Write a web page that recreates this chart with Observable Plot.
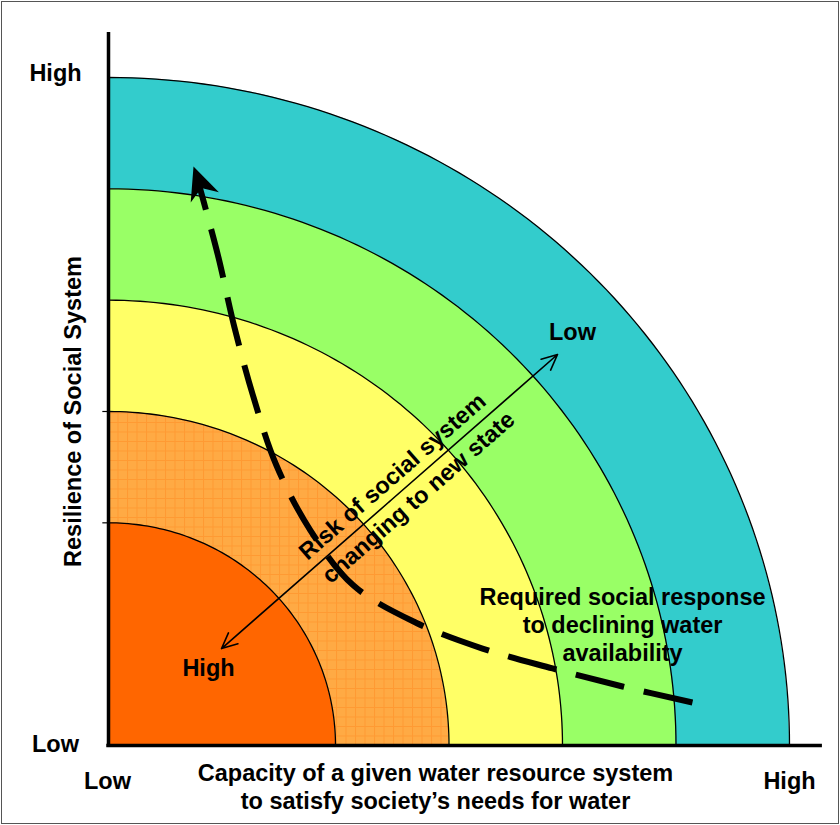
<!DOCTYPE html>
<html><head><meta charset="utf-8">
<script src="https://cdn.jsdelivr.net/npm/d3@7"></script>
<script src="https://cdn.jsdelivr.net/npm/@observablehq/plot@0.6"></script>
<style>
body{margin:0;background:#fff;}
#wrap{position:relative;width:840px;height:825px;overflow:hidden;}
#wrap::after{content:"";position:absolute;left:1px;top:1px;right:1px;bottom:1px;border:1.5px solid #555;pointer-events:none;}
</style></head><body><div id="wrap"></div>
<script>
// Ring outer radii (in axis units) and their fills, outermost first
const ringRadius = [6, 5, 4, 3, 2];
const ringFill = ["#33CCCC", "#99FF66", "#FFFF66", "url(#hatch)", "#FF6600"];

// Dashed "required social response" path (from lower right toward the arrow tip)
const responseX = [5.145, 4.529, 3.912, 3.295, 2.705, 2.159, 1.780, 1.480, 1.278, 1.110, 0.969, 0.855, 0.805];
const responseY = [0.386, 0.530, 0.692, 0.871, 1.105, 1.437, 1.931, 2.515, 3.126, 3.755, 4.383, 4.823, 5.010];
const responseTip = {x: 0.749, y: 5.201};

// Risk double arrow
const riskLow = {x: 3.956, y: 3.512};
const riskHigh = {x: 0.996, y: 0.871};

// Texts
const axisLevelLabels = ["Low", "High"];
const xTitle = ["Capacity of a given water resource system", "to satisfy society\u2019s needs for water"];
const yTitle = "Resilience of Social System";
const riskText = ["Risk of social system", "changing to new state"];
const responseText = ["Required social response", "to declining water", "availability"];

const font = '"Liberation Sans", Arial, Helvetica, sans-serif';
const angles = d3.range(0, 91, 1).map(a => a * Math.PI / 180);
const arc = r => angles.map(a => ({x: r * Math.cos(a), y: r * Math.sin(a)}));

const mid = {x: (riskLow.x + riskHigh.x) / 2, y: (riskLow.y + riskHigh.y) / 2};
const response = responseX.map((x, i) => ({x, y: responseY[i]}));

const stealth = {
  draw(ctx) {
    ctx.moveTo(0, 0);
    ctx.lineTo(15, 33);
    ctx.lineTo(0, 23);
    ctx.lineTo(-15, 33);
    ctx.closePath();
  }
};

const txt = {fontFamily: font, fontWeight: "bold", fontSize: 23.5, fill: "black"};

const marks = [];
ringRadius.forEach((r, i) => {
  marks.push(Plot.areaY(arc(r), {x: "x", y1: 0, y2: "y", fill: ringFill[i], curve: "linear"}));
});
ringRadius.forEach((r) => {
  marks.push(Plot.line(arc(r), {x: "x", y: "y", stroke: "black", strokeWidth: 1.3}));
});
marks.push(
  Plot.ruleY([2, 3], {x1: -0.05, x2: 0, stroke: "black", strokeWidth: 1.2}),
  Plot.ruleX([0], {y1: -0.015, y2: 6.404, stroke: "black", strokeWidth: 3.5}),
  Plot.ruleY([0], {x1: -0.015, x2: 6.29, stroke: "black", strokeWidth: 3.5}),
  // dashed response curve
  Plot.line(response, {x: "x", y: "y", curve: "catmull-rom", stroke: "black", strokeWidth: 6, strokeDasharray: "50,20", strokeLinecap: "butt"}),
  Plot.dot([responseTip], {x: "x", y: "y", symbol: stealth, r: 10, fill: "black", stroke: "none", rotate: -20}),
  // risk double arrow
  Plot.arrow([riskLow, riskHigh], {x1: () => mid.x, y1: () => mid.y, x2: "x", y2: "y", stroke: "black", strokeWidth: 1.6, headLength: 16, headAngle: 50}),
  Plot.text([riskText[0]], {x: 2.502, y: 2.415, text: d => d, rotate: -41.2, ...txt}),
  Plot.text([riskText[1]], {x: 2.731, y: 2.228, text: d => d, rotate: -41.2, ...txt}),
  Plot.text(["Low"], {x: 4.088, y: 3.710, text: d => d, ...txt}),
  Plot.text(["High"], {x: 0.881, y: 0.692, text: d => d, ...txt}),
  Plot.text(responseText, {x: 4.529, y: (d, i) => [1.329, 1.078, 0.826][i], text: d => d, ...txt}),
  // axis level labels
  Plot.text([axisLevelLabels[1]], {x: -0.467, y: 6.036, text: d => d, ...txt}),
  Plot.text([axisLevelLabels[0]], {x: -0.467, y: 0.009, text: d => d, ...txt}),
  Plot.text([axisLevelLabels[0]], {x: -0.009, y: -0.323, text: d => d, ...txt}),
  Plot.text([axisLevelLabels[1]], {x: 6.0, y: -0.323, text: d => d, ...txt}),
  Plot.text(xTitle, {x: 2.881, y: (d, i) => [-0.2515, -0.503][i], text: d => d, ...txt}),
  Plot.text([yTitle], {x: -0.308, y: 3.0, text: d => d, rotate: -90, ...txt})
);

const plot = Plot.plot({
  width: 840, height: 825,
  marginLeft: 108, marginRight: 51, marginTop: 77, marginBottom: 80,
  x: {domain: [0, 6], axis: null},
  y: {domain: [0, 6], axis: null},
  style: {fontFamily: font, background: "white", overflow: "visible"},
  marks
});

const defs = d3.select(plot).insert("defs", ":first-child");
const pat = defs.append("pattern").attr("id", "hatch").attr("patternUnits", "userSpaceOnUse")
  .attr("width", 9.5).attr("height", 9.5).attr("x", 108).attr("y", 745);
pat.append("rect").attr("width", 9.5).attr("height", 9.5).attr("fill", "#FFAA44");
pat.append("path").attr("d", "M0 0.5H9.5M0.5 0V9.5").attr("stroke", "#FF9A33").attr("stroke-width", 1).attr("fill", "none");

document.getElementById("wrap").appendChild(plot);
</script></body></html>
